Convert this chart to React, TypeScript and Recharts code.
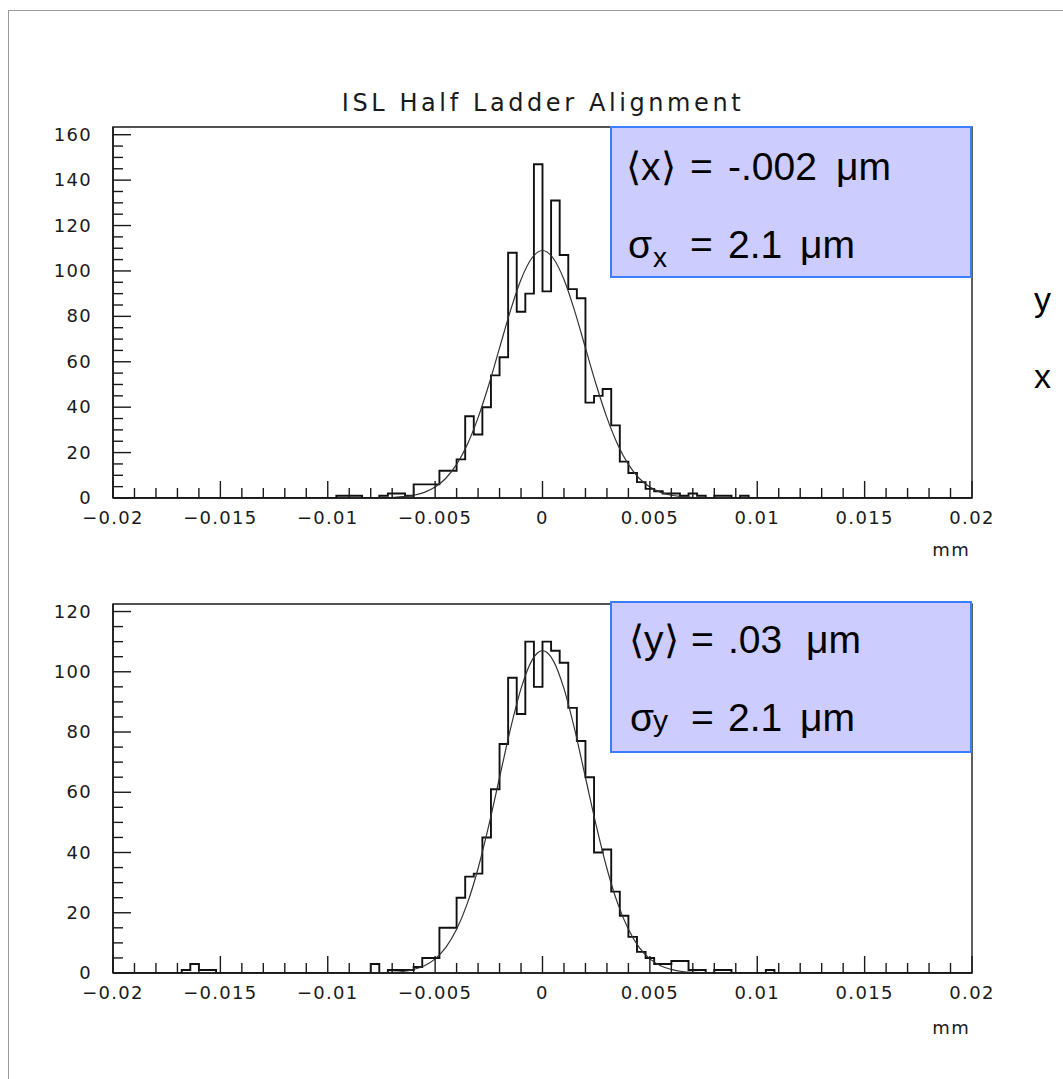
import React from 'react';
import { ComposedChart, Line, XAxis, YAxis, ReferenceArea } from 'recharts';

// histogram binning (mm)
const xMin = -0.02;
const xMax = 0.02;
const binWidth = 0.0004;

// x residuals: counts per bin, starting at bin index 26
const xFirstBin = 26;
const xCounts = [
  1, 1, 1, 0, 0, 1, 2, 2, 1, 6, 6, 6, 12, 12, 17, 36, 28, 40, 54, 62, 108, 82, 90, 147,
  91, 131, 107, 92, 88, 42, 45, 48, 32, 16, 11, 7, 4, 3, 2, 2, 1, 2, 1, 0, 1, 1, 0, 1,
];

// y residuals: counts per bin, starting at bin index 8
const yFirstBin = 8;
const yCounts = [
  1, 3, 1, 1, 0, 0, 0, 0, 0, 0, 0, 0, 0, 0, 0, 0, 0, 0, 0, 0, 0, 0, 3, 0, 1, 1, 1, 2, 5, 5,
  15, 15, 25, 32, 33, 45, 61, 76, 98, 86, 110, 95, 110, 107, 103, 88, 77, 65, 40, 41, 27, 19,
  12, 7, 5, 3, 3, 4, 4, 1, 1, 0, 1, 1, 0, 0, 0, 0, 1,
];

// gaussian fit curves
const fitX = [
  -0.008, -0.0075, -0.007, -0.0065, -0.006, -0.0055, -0.005, -0.0045, -0.004, -0.0035, -0.003,
  -0.0025, -0.002, -0.0015, -0.001, -0.0005, 0, 0.0005, 0.001, 0.0015, 0.002, 0.0025, 0.003,
  0.0035, 0.004, 0.0045, 0.005, 0.0055, 0.006, 0.0065, 0.007, 0.0075, 0.008,
];
const fitXValues = [
  0, 0.1, 0.2, 0.6, 1.2, 2.5, 4.8, 8.7, 14.8, 23.6, 35.4, 49.9, 66.1, 82.3, 96.2, 105.6, 109,
  105.6, 96.2, 82.3, 66.1, 49.9, 35.4, 23.6, 14.8, 8.7, 4.8, 2.5, 1.2, 0.6, 0.2, 0.1, 0,
];
const fitYValues = [
  0, 0.1, 0.2, 0.5, 1.2, 2.4, 4.7, 8.5, 14.5, 23.1, 34.7, 49.0, 64.9, 80.8, 94.4, 103.7, 107,
  103.7, 94.4, 80.8, 64.9, 49.0, 34.7, 23.1, 14.5, 8.5, 4.7, 2.4, 1.2, 0.5, 0.2, 0.1, 0,
];

// axes
const xMajorTicks = [-0.02, -0.015, -0.01, -0.005, 0, 0.005, 0.01, 0.015, 0.02];
const xTickLabels = ['\u22120.02', '\u22120.015', '\u22120.01', '\u22120.005', '0', '0.005', '0.01', '0.015', '0.02'];
const xMinorStep = 0.001;
const topYMax = 163.4;
const bottomYMax = 122.5;
const yMinorStep = 5;
const yMajorStep = 20;

const tickFont = '"DejaVu Sans", sans-serif';
const boxFont = '"Liberation Sans", Arial, sans-serif';
const ink = '#1a1a1a';

const xTicks = Array.from({ length: Math.round((xMax - xMin) / xMinorStep) + 1 }, (_, i) =>
  Number((xMin + i * xMinorStep).toFixed(4))
);
const yTicks = (max: number) =>
  Array.from({ length: Math.floor(max / yMinorStep) + 1 }, (_, i) => i * yMinorStep);

function histSteps(first: number, counts: number[]) {
  const nBins = Math.round((xMax - xMin) / binWidth);
  const pts = [];
  for (let k = 0; k <= nBins; k++) {
    const i = k - first;
    pts.push({ x: xMin + k * binWidth, n: i >= 0 && i < counts.length ? counts[i] : 0 });
  }
  return pts;
}

const XTick = (props: any) => {
  const { x, y, payload } = props;
  const idx = xMajorTicks.findIndex((m) => Math.abs(m - payload.value) < 1e-7);
  const major = idx >= 0;
  return (
    <g>
      <line x1={x} x2={x} y1={y} y2={y - (major ? 17 : 10)} stroke={ink} strokeWidth={1.4} />
      {major && (
        <text x={x} y={y + 26} textAnchor="middle" fontFamily={tickFont} fontSize={18} letterSpacing={1.3} fill={ink}>
          {xTickLabels[idx]}
        </text>
      )}
    </g>
  );
};

const YTick = (props: any) => {
  const { x, y, payload } = props;
  const major = payload.value % yMajorStep === 0;
  return (
    <g>
      <line x1={x} x2={x + (major ? 18 : 10)} y1={y} y2={y} stroke={ink} strokeWidth={1.4} />
      {major && (
        <text x={x - 21} y={y + 6} textAnchor="end" fontFamily={tickFont} fontSize={18} letterSpacing={1.3} fill={ink}>
          {payload.value}
        </text>
      )}
    </g>
  );
};

function Hist({ counts, first, fit, yMax, height, margin }: any) {
  const steps = histSteps(first, counts);
  const fitData = fitX.map((x, i) => ({ x, f: fit[i] }));
  return (
    <ComposedChart width={1063} height={height} margin={margin}>
      <XAxis
        dataKey="x"
        type="number"
        domain={[xMin, xMax]}
        ticks={xTicks}
        interval={0}
        tick={<XTick />}
        tickLine={false}
        tickSize={0}
        tickMargin={0}
        height={30}
        axisLine={{ stroke: ink, strokeWidth: 1.6 }}
        allowDataOverflow
      />
      <YAxis
        type="number"
        domain={[0, yMax]}
        ticks={yTicks(yMax)}
        interval={0}
        tick={<YTick />}
        tickLine={false}
        tickSize={0}
        tickMargin={0}
        width={70}
        axisLine={{ stroke: ink, strokeWidth: 1.6 }}
        allowDataOverflow
      />
      <ReferenceArea x1={xMin} x2={xMax} y1={0} y2={yMax} fill="none" stroke={ink} strokeWidth={1.4} fillOpacity={0} />
      <Line data={steps} dataKey="n" type="stepAfter" stroke="#111" strokeWidth={1.9} dot={false} isAnimationActive={false} />
      <Line data={fitData} dataKey="f" type="monotone" stroke="#333" strokeWidth={1.2} dot={false} isAnimationActive={false} />
    </ComposedChart>
  );
}

export default function App() {
  return (
    <div style={{ position: 'absolute', left: 0, top: 0, width: 1063, height: 1079, overflow: 'hidden', background: '#fff' }}>
      <div style={{ position: 'absolute', left: 8, top: 10, width: 1200, height: 1200, border: '1px solid #999' }} />
      <div style={{ position: 'absolute', left: 0, top: 0 }}>
        <Hist counts={xCounts} first={xFirstBin} fit={fitXValues} yMax={topYMax} height={545} margin={{ top: 127, right: 91, bottom: 17, left: 43 }} />
      </div>
      <div style={{ position: 'absolute', left: 0, top: 560 }}>
        <Hist counts={yCounts} first={yFirstBin} fit={fitYValues} yMax={bottomYMax} height={519} margin={{ top: 44, right: 91, bottom: 76, left: 43 }} />
      </div>
      <svg width={1063} height={1079} style={{ position: 'absolute', left: 0, top: 0, pointerEvents: 'none' }}>
        <text x={543} y={111} textAnchor="middle" fontFamily={tickFont} fontSize={24} letterSpacing={3.6} fill={ink}>
          ISL Half Ladder Alignment
        </text>
        <text x={970} y={556} textAnchor="end" fontFamily={tickFont} fontSize={18} letterSpacing={1.3} fill={ink}>mm</text>
        <text x={970} y={1034} textAnchor="end" fontFamily={tickFont} fontSize={18} letterSpacing={1.3} fill={ink}>mm</text>

        <rect x={611} y={127} width={360} height={150} fill="#ccccff" stroke="#3d7dff" strokeWidth={2} />
        <text fontFamily={boxFont} fontSize={39} fill="#000">
          <tspan x={626} y={180}>{'\u27e8x\u27e9'}</tspan>
          <tspan x={690} y={180}>=</tspan>
          <tspan x={728} y={180}>-.002</tspan>
          <tspan x={836} y={180}>{'\u03bcm'}</tspan>
          <tspan x={628} y={258}>{'\u03c3'}</tspan>
          <tspan x={653} fontSize={28} y={267}>x</tspan>
          <tspan x={690} y={258}>=</tspan>
          <tspan x={728} y={258}>2.1</tspan>
          <tspan x={800} y={258}>{'\u03bcm'}</tspan>
        </text>

        <rect x={611} y={602} width={360} height={150} fill="#ccccff" stroke="#3d7dff" strokeWidth={2} />
        <text fontFamily={boxFont} fontSize={39} fill="#000">
          <tspan x={629} y={653}>{'\u27e8y\u27e9'}</tspan>
          <tspan x={691} y={653}>=</tspan>
          <tspan x={728} y={653}>.03</tspan>
          <tspan x={806} y={653}>{'\u03bcm'}</tspan>
          <tspan x={630} y={731}>{'\u03c3'}</tspan>
          <tspan x={653} fontSize={30} y={731}>y</tspan>
          <tspan x={691} y={731}>=</tspan>
          <tspan x={728} y={731}>2.1</tspan>
          <tspan x={800} y={731}>{'\u03bcm'}</tspan>
        </text>

        <text x={1034} y={311} fontFamily={boxFont} fontSize={34} fill="#000">y</text>
        <text x={1034} y={388} fontFamily={boxFont} fontSize={34} fill="#000">x</text>
      </svg>
    </div>
  );
}
